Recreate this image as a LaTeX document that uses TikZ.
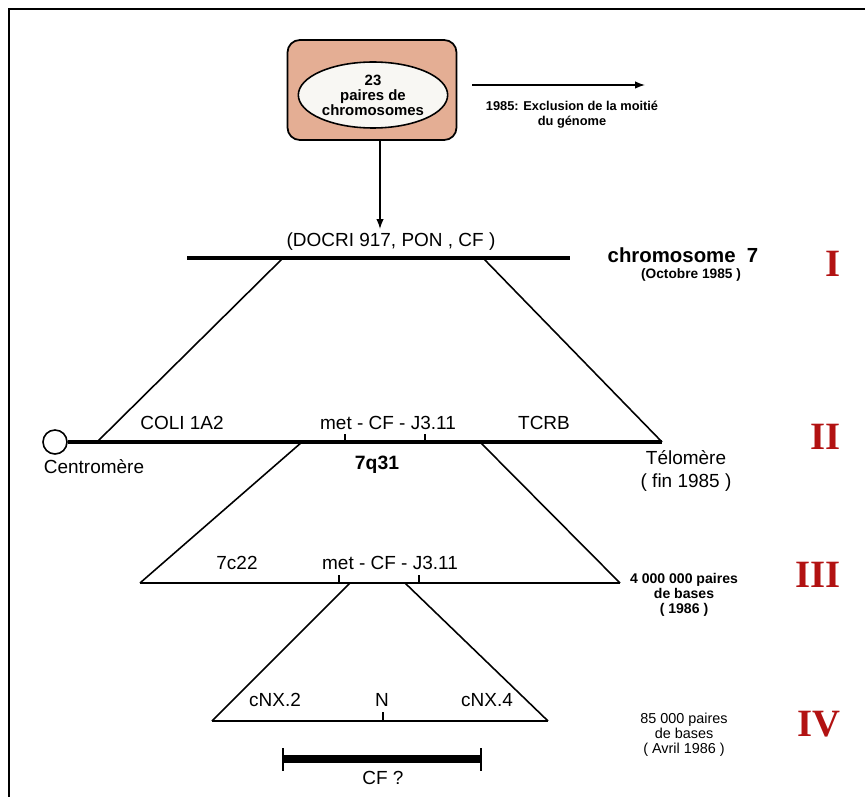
\documentclass[tikz,border=0pt]{standalone}
\usepackage{fontspec}
\setmainfont{Liberation Sans}
\newfontfamily\romfont{Liberation Serif}
\usetikzlibrary{arrows.meta,positioning,shapes.geometric,calc}
\definecolor{boxsalmon}{RGB}{228,174,148}
\definecolor{ovalwhite}{RGB}{248,247,243}
\definecolor{stagered}{RGB}{178,18,18}

\begin{document}
\begin{tikzpicture}[x=0.02cm,y=-0.02cm,
    every node/.style={font=\fontsize{10.8}{12}\selectfont,inner sep=1pt},
    small/.style={font=\fontsize{8}{8.5}\selectfont\bfseries,align=center},
    stage/.style={font=\romfont\bfseries\fontsize{22}{22}\selectfont,text=stagered,anchor=east},
    arr/.style={line width=0.8pt,-{Latex[length=2mm,width=1.5mm]}},
    slant/.style={line width=0.9pt},
    tick/.style={line width=0.6pt}]
  \useasboundingbox (0,0) rectangle (865,797);
  \draw[line width=1.2pt] (9,797) -- (9,9) -- (865,9);

  % genome box
  \node[draw,line width=1pt,rounded corners=7pt,fill=boxsalmon,minimum width=3.38cm,minimum height=2cm] (genome) at (372,90) {};
  \node[draw,line width=0.9pt,ellipse,fill=ovalwhite,minimum width=2.74cm,minimum height=1.32cm,align=center,
        font=\fontsize{8.5}{8.5}\selectfont\bfseries] (pairs) at (373,95) {23\\paires de\\chromosomes};
  \coordinate (exclEnd) at (645,85);
  \draw[arr] ([xshift=0.3cm]genome.east |- exclEnd) -- (exclEnd);
  \node[small,font=\fontsize{7.3}{8.5}\selectfont\bfseries] (excl) at (572,115) {1985: Exclusion de la moitié\\du génome};
  \coordinate (chrTop) at (380,229);
  \draw[arr] (genome.south -| chrTop) -- (chrTop);

  % chromosome 7
  \coordinate (c7L) at (187,258); \coordinate (c7R) at (570,258);
  \coordinate (c7a) at (283,258); \coordinate (c7b) at (483,258);
  \draw[line width=2.3pt] (c7L) -- (c7R);
  \node (docri) at (391,242) {(DOCRI 917, PON , CF )};
  \node[font=\fontsize{11.6}{12}\selectfont\bfseries] (chr7) at (683,255) {chromosome\ \ 7};
  \node[font=\fontsize{7.8}{9}\selectfont\bfseries] (oct) at (691,275) {(Octobre 1985 )};

  % stage II
  \node[draw,circle,line width=0.9pt,fill=white,minimum size=0.48cm,inner sep=0pt] (centro) at (55,442) {};
  \coordinate (IIL) at (97,442); \coordinate (IIR) at (662,442);
  \coordinate (IIa) at (302,442); \coordinate (IIb) at (480,442);
  \draw[line width=2pt] (centro.east) -- (IIR);
  \draw[slant] (c7a) -- (IIL);
  \draw[slant] (c7b) -- (IIR);
  \foreach \x in {345,425} \draw[tick] (\x,434) -- (\x,442);
  \node (coli) at (182,423) {COLI 1A2};
  \node (metII) at (388,423) {met - CF - J3.11};
  \node (tcrb) at (544,423) {TCRB};
  \node (centroLab) at (94,467) {Centromère};
  \node[font=\fontsize{11}{12}\selectfont\bfseries] (q31) at (377,465) {7q31};
  \node[align=center,font=\fontsize{10.8}{13}\selectfont] (telo) at (686,471) {Télomère\\( fin 1985 )};

  % stage III
  \coordinate (IIIL) at (140,583); \coordinate (IIIR) at (620,583);
  \coordinate (IIIa) at (350,583); \coordinate (IIIb) at (405,583);
  \draw[line width=1.7pt] (IIIL) -- (IIIR);
  \draw[slant] (IIa) -- (IIIL);
  \draw[slant] (IIb) -- (IIIR);
  \foreach \x in {339,419} \draw[tick] (\x,575) -- (\x,583);
  \node (c22) at (237,563) {7c22};
  \node (metIII) at (390,563) {met - CF - J3.11};
  \node[small] (mb4) at (684,595) {4 000 000 paires\\de bases\\( 1986 )};

  % stage IV
  \coordinate (IVL) at (212,721); \coordinate (IVR) at (548,721);
  \draw[line width=1.4pt] (IVL) -- (IVR);
  \draw[slant] (IIIa) -- (IVL);
  \draw[slant] (IIIb) -- (IVR);
  \draw[tick] (383,712) -- (383,721);
  \node (nx2) at (275,700) {cNX.2};
  \node (nN) at (382,700) {N};
  \node (nx4) at (487,700) {cNX.4};
  \node[small,font=\fontsize{8.2}{8.5}\selectfont] (kb85) at (684,735) {85 000 paires\\de bases\\( Avril 1986 )};

  % CF gene
  \coordinate (cfL) at (283,759); \coordinate (cfR) at (481,759);
  \draw[line width=4pt] (cfL) -- (cfR);
  \draw[tick] ([yshift=0.22cm]cfL) -- ([yshift=-0.24cm]cfL);
  \draw[tick] ([yshift=0.22cm]cfR) -- ([yshift=-0.24cm]cfR);
  \node (cf) at (383,778) {CF ?};

  % stages
  \foreach \n/\y in {I/264,II/437,III/575,IV/724}
    \node[stage] (stage\n) at (843,\y) {\n};
\end{tikzpicture}
\end{document}
